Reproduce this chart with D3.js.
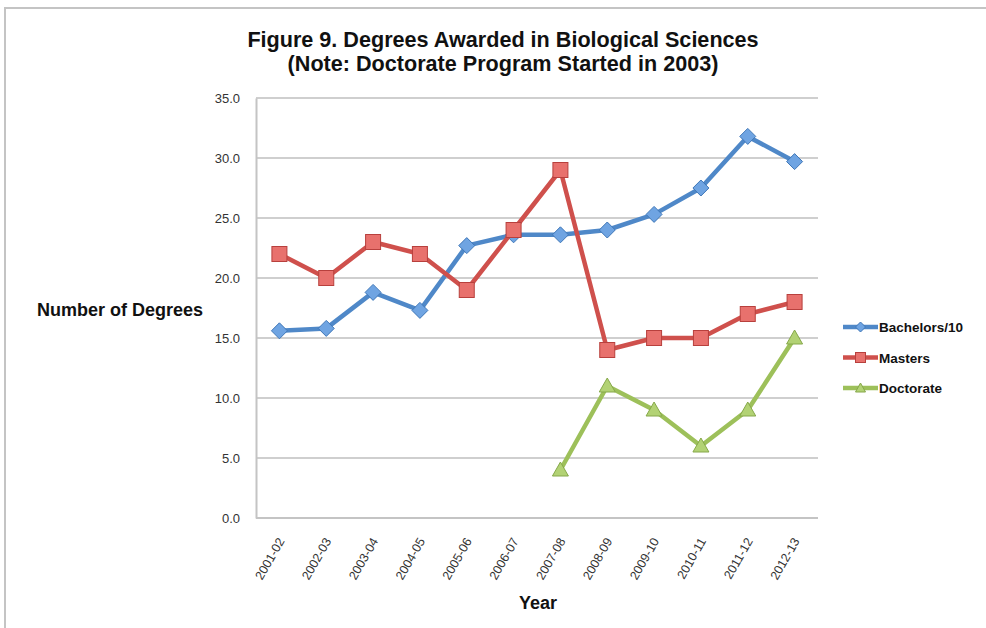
<!DOCTYPE html>
<html><head><meta charset="utf-8">
<script src="https://cdn.jsdelivr.net/npm/d3@7"></script>
<style>body{margin:0;background:#fff;} svg{display:block;}</style>
</head><body>
<svg id="c" width="986" height="628"></svg>
<script>
const years = ["2001-02","2002-03","2003-04","2004-05","2005-06","2006-07","2007-08","2008-09","2009-10","2010-11","2011-12","2012-13"];
const bachelors = [15.6,15.8,18.8,17.3,22.7,23.6,23.6,24.0,25.3,27.5,31.8,29.7];
const masters = [22,20,23,22,19,24,29,14,15,15,17,18];
const doctorate = [null,null,null,null,null,null,4,11,9,6,9,15];
const yTicks = [0,5,10,15,20,25,30,35];
const seriesNames = ["Bachelors/10","Masters","Doctorate"];
const titleLines = ["Figure 9. Degrees Awarded in Biological Sciences","(Note: Doctorate Program Started in 2003)"];

const svg = d3.select("#c");
const L=256,R=818,T=98,B=518;
const x = d3.scalePoint().domain(years).range([L,R]).padding(0.5);
const y = d3.scaleLinear().domain([0,35]).range([B,T]);

// frame
svg.append("path").attr("d","M5,628 L5,8 L986,8").attr("fill","none").attr("stroke","#c4c4c4").attr("stroke-width",2);

// title
svg.append("g").selectAll("text").data(titleLines).join("text")
  .attr("x",503).attr("y",(d,i)=>47+i*24).attr("text-anchor","middle")
  .attr("font-family","Liberation Sans, Arial, sans-serif").attr("font-weight","bold").attr("font-size",21.6).attr("fill","#111").text(d=>d);

// gridlines
svg.append("g").selectAll("line").data(yTicks.filter(d=>d>0)).join("line")
  .attr("x1",L).attr("x2",R).attr("y1",d=>y(d)).attr("y2",d=>y(d))
  .attr("stroke","#cfcfcf").attr("stroke-width",2);

// y axis
const ya = svg.append("g").attr("transform",`translate(${L},0)`)
  .call(d3.axisLeft(y).tickValues(yTicks).tickFormat(d3.format(".1f")).tickSize(0).tickPadding(16));
ya.select(".domain").attr("stroke","#c4c4c4").attr("stroke-width",2);
ya.selectAll("text").attr("font-family","Liberation Sans, Arial, sans-serif").attr("font-size",13).attr("fill","#333");

// x axis
const xa = svg.append("g").attr("transform",`translate(0,${B})`)
  .call(d3.axisBottom(x).tickSize(0).tickPadding(0));
xa.select(".domain").attr("stroke","#c4c4c4").attr("stroke-width",2).attr("d",`M${L},0H${R}`);
xa.selectAll("text").attr("font-family","Liberation Sans Narrow, Arial Narrow, Liberation Sans, sans-serif")
  .attr("font-size",12.5).attr("fill","#333")
  .attr("text-anchor","end").attr("dy",null)
  .attr("transform","translate(5,23) rotate(-60)");

// axis titles
svg.append("text").attr("x",120).attr("y",316).attr("text-anchor","middle")
  .attr("font-family","Liberation Sans, Arial, sans-serif").attr("font-weight","bold").attr("font-size",18).attr("fill","#111").text("Number of Degrees");
svg.append("text").attr("x",538).attr("y",609).attr("text-anchor","middle")
  .attr("font-family","Liberation Sans Narrow, Arial Narrow, Liberation Sans, sans-serif").attr("font-weight","bold").attr("font-size",18).attr("fill","#111").text("Year");

const colors = ["#4F88C8","#CF504C","#9DC05A"];
const fills = ["#6FA4E2","#E8716D","#B2D274"];
const strokesM = ["#3F77B8","#B8403D","#86A84A"];
const data = [bachelors,masters,doctorate];

function marker(g, k, cx, cy){
  if(k===0){
    g.append("path").attr("d",`M${cx},${cy-8}L${cx+8},${cy}L${cx},${cy+8}L${cx-8},${cy}Z`);
  } else if(k===1){
    g.append("rect").attr("x",cx-7.5).attr("y",cy-7.5).attr("width",15).attr("height",15);
  } else {
    g.append("path").attr("d",`M${cx},${cy-8}L${cx+8},${cy+6}L${cx-8},${cy+6}Z`);
  }
}

data.forEach((vals,k)=>{
  const line = d3.line().defined(d=>d!=null).x((d,i)=>x(years[i])).y(d=>y(d));
  svg.append("path").datum(vals).attr("d",line).attr("fill","none")
    .attr("stroke",colors[k]).attr("stroke-width",4.5).attr("stroke-linejoin","round");
  const g = svg.append("g").attr("fill",fills[k]).attr("stroke",strokesM[k]).attr("stroke-width",1);
  vals.forEach((v,i)=>{ if(v!=null) marker(g,k,x(years[i]),y(v)); });
});

// legend
const lg = svg.append("g");
seriesNames.forEach((n,k)=>{
  const yy = 327 + k*30.5;
  lg.append("line").attr("x1",843).attr("x2",878).attr("y1",yy).attr("y2",yy).attr("stroke",colors[k]).attr("stroke-width",4.5);
  const g = lg.append("g").attr("fill",fills[k]).attr("stroke",strokesM[k]).attr("stroke-width",1);
  if(k===0) g.append("path").attr("d",`M860.5,${yy-5}L865.5,${yy}L860.5,${yy+5}L855.5,${yy}Z`);
  else if(k===1) g.append("rect").attr("x",855.5).attr("y",yy-5).attr("width",10).attr("height",10);
  else g.append("path").attr("d",`M860.5,${yy-5}L865.5,${yy+4}L855.5,${yy+4}Z`);
  lg.append("text").attr("x",879).attr("y",yy+5).attr("font-family","Liberation Sans, Arial, sans-serif")
    .attr("font-weight","bold").attr("font-size",13.5).attr("fill","#111").text(n);
});
</script>
</body></html>
